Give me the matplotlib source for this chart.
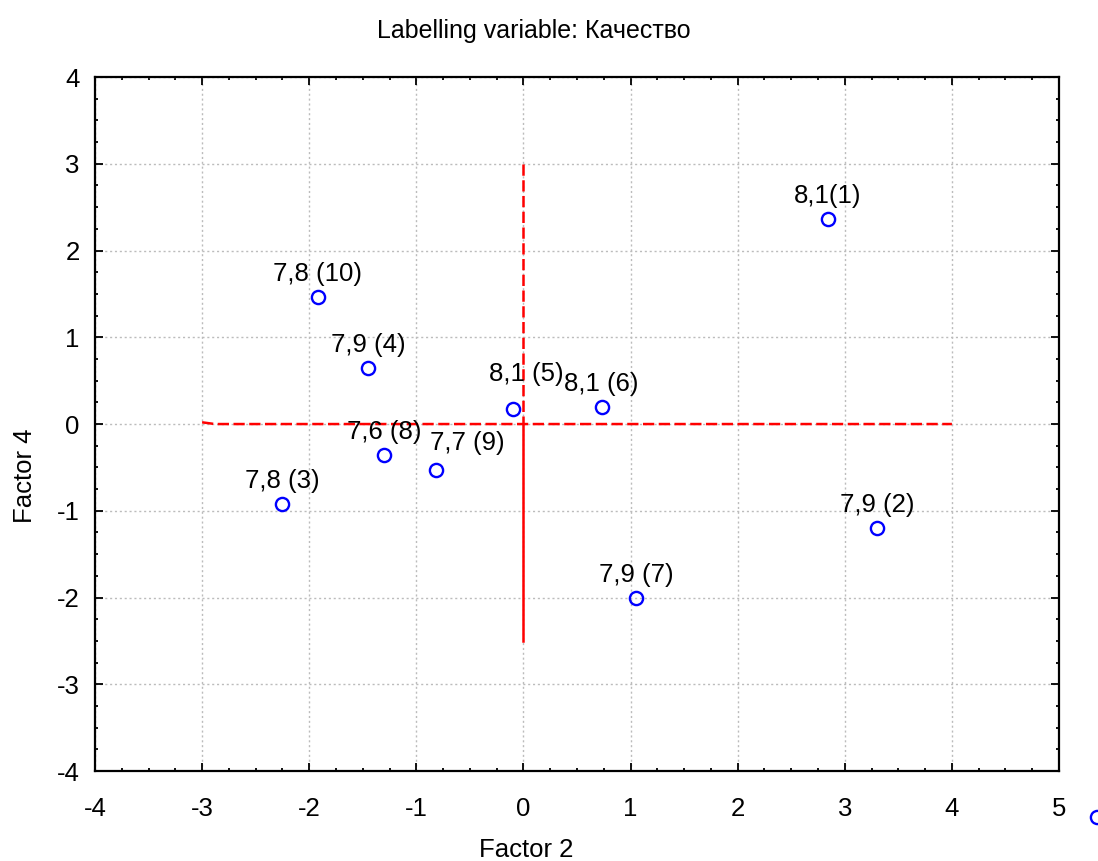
import matplotlib
matplotlib.use('Agg')
import matplotlib.pyplot as plt
from matplotlib.ticker import MultipleLocator

plt.rcParams['font.family'] = ['Liberation Sans', 'DejaVu Sans']
plt.rcParams['axes.unicode_minus'] = False

# scores of the cases on factor 2 / factor 4
factor2 = [2.84, 3.30, -2.25, -1.45, -0.10, 0.73, 1.05, -1.30, -0.82, -1.92]
factor4 = [2.36, -1.20, -0.92, 0.65, 0.17, 0.20, -2.01, -0.36, -0.53, 1.46]
labels = ['8,1(1)', '7,9 (2)', '7,8 (3)', '7,9 (4)', '8,1 (5)',
          '8,1 (6)', '7,9 (7)', '7,6 (8)', '7,7 (9)', '7,8 (10)']

# one more case lying outside the plotted range
outside_x = [5.35]
outside_y = [-4.53]

xticks = [-4, -3, -2, -1, 0, 1, 2, 3, 4, 5]
yticks = [-4, -3, -2, -1, 0, 1, 2, 3, 4]

# reference cross lines
hline_x = [-3, -2.88, 4]
hline_y = [0.02, 0, 0]
vline_dash_y = [3, 0]
vline_solid_y = [0, -2.5]

# label placement (points): default is centred just above the marker
label_offsets = {4: (10, 17), 8: (23, 11)}

fs = 18.5

fig = plt.figure(figsize=(10.98, 8.61), dpi=100)
ax = fig.add_axes([0.0865, 0.1045, 0.878, 0.806])

ax.set_xlim(-4, 5)
ax.set_ylim(-4, 4)
ax.set_xticks(xticks)
ax.set_yticks(yticks)
ax.set_xticklabels([str(t) for t in xticks])
ax.set_yticklabels([str(t) for t in yticks])
ax.xaxis.set_minor_locator(MultipleLocator(0.25))
ax.yaxis.set_minor_locator(MultipleLocator(0.25))
ax.tick_params(which='both', direction='in', top=True, right=True, width=1.3)
ax.tick_params(which='major', length=6, labelsize=fs)
ax.tick_params(axis='x', which='major', pad=19)
ax.tick_params(axis='y', which='major', pad=11)
ax.tick_params(which='minor', length=2.5)
for s in ax.spines.values():
    s.set_linewidth(1.6)

ax.grid(True, which='major', color='#bcbcbc', linestyle=(0, (1.5, 2)), linewidth=1.0)
ax.set_axisbelow(True)

red = '#ff0000'
ax.plot(hline_x, hline_y, color=red, linewidth=1.8, dashes=(4.5, 1.8))
ax.plot([0, 0], vline_dash_y, color=red, linewidth=1.8, dashes=(4.5, 1.8))
ax.plot([0, 0], vline_solid_y, color=red, linewidth=1.8)

ax.plot(factor2, factor4, linestyle='none', marker='o', markersize=9.5,
        markerfacecolor='none', markeredgecolor='#0000ff', markeredgewidth=1.7)
ax.plot(outside_x, outside_y, linestyle='none', marker='o', markersize=9.5,
        markerfacecolor='none', markeredgecolor='#0000ff', markeredgewidth=1.7,
        clip_on=False)

for i, (x, y, lab) in enumerate(zip(factor2, factor4, labels)):
    dx, dy = label_offsets.get(i, (0, 8))
    ax.annotate(lab, (x, y), xytext=(dx, dy), textcoords='offset points',
                ha='center', va='bottom', fontsize=fs)

fig.text(0.486, 1 - 31 / 861, 'Labelling variable: Качество', ha='center',
         va='center', fontsize=18)
fig.text(526 / 1098, 1 - 850 / 861, 'Factor 2', ha='center', va='center', fontsize=fs)
fig.text(25 / 1098, 1 - 476 / 861, 'Factor 4', ha='center', va='center',
         fontsize=fs, rotation=90)

fig.savefig('out.png', dpi=100)
